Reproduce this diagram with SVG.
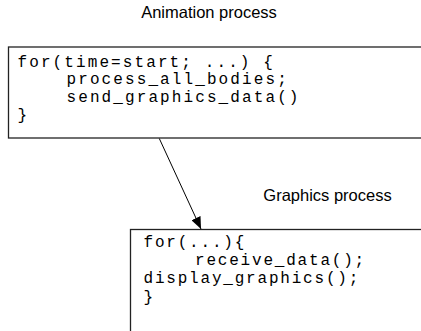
<svg xmlns="http://www.w3.org/2000/svg" width="421" height="331" viewBox="0 0 421 331">
<style>
.box{fill:#fff;stroke:#222;stroke-width:1.3}
.title{font-family:"Liberation Sans",Arial,sans-serif;font-size:16.5px;fill:#000}
.code{font-family:"Liberation Mono","Courier New",monospace;font-size:16px;letter-spacing:2.1px;fill:#000}
.code2{font-family:"Liberation Mono","Courier New",monospace;font-size:16px;letter-spacing:1.8px;fill:#000}
.conn{stroke:#000;stroke-width:1;fill:none}
</style>
<defs>
<marker id="arrow" markerWidth="12" markerHeight="10" refX="12" refY="5" orient="auto" markerUnits="userSpaceOnUse">
<path d="M0,0 L12,5 L0,10 Z" fill="#000"/>
</marker>
</defs>
<rect width="421" height="331" fill="#fff"/>
<g id="animation">
<text class="title" x="209" y="18.3" text-anchor="middle">Animation process</text>
<rect class="box" x="8.5" y="47" width="420" height="91"/>
<text class="code" x="17.5" y="66.7">for(time=start; ...) {</text>
<text class="code" x="66.5" y="84.3">process_all_bodies;</text>
<text class="code" x="66.5" y="101.7">send_graphics_data()</text>
<text class="code" x="17.5" y="119.5">}</text>
</g>
<g id="graphics">
<text class="title" x="327.5" y="200.5" text-anchor="middle">Graphics process</text>
<rect class="box" x="130.5" y="229.5" width="300" height="120"/>
<text class="code2" x="143.5" y="246.7">for(...){</text>
<text class="code2" x="195" y="265">receive_data();</text>
<text class="code2" x="143.5" y="283.3">display_graphics();</text>
<text class="code2" x="143.5" y="301.5">}</text>
</g>
<g id="connectors">
<line class="conn" x1="159.3" y1="138.5" x2="201" y2="229" marker-end="url(#arrow)"/>
</g>
</svg>
